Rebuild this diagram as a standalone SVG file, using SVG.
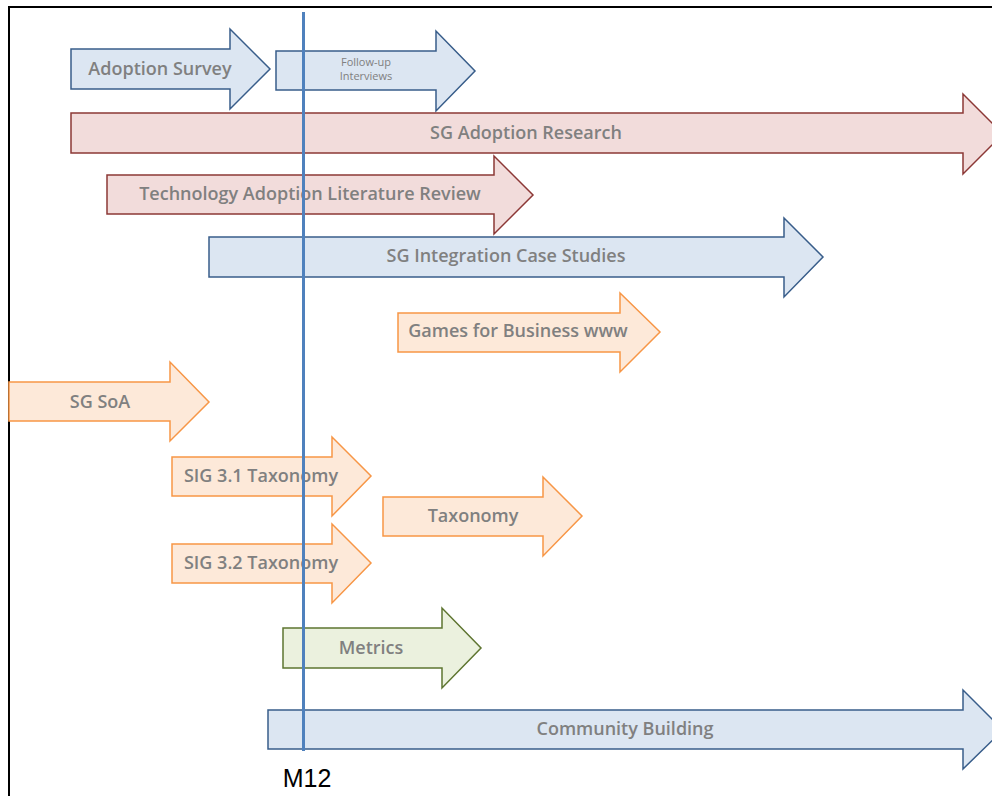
<svg xmlns="http://www.w3.org/2000/svg" width="992" height="796" viewBox="0 0 992 796">
<style>
.blue{fill:#DCE6F2;stroke:#385D8A;stroke-width:1.5}
.red{fill:#F2DCDB;stroke:#8C3836;stroke-width:1.5}
.orange{fill:#FDE9D9;stroke:#F79646;stroke-width:1.5}
.green{fill:#EBF1DE;stroke:#5E7530;stroke-width:1.5}
.lbl{font-family:"Open Sans","Liberation Sans",sans-serif;font-weight:600;font-size:18px;fill:#808080;text-anchor:middle;dominant-baseline:central}
.small{font-size:11px;font-weight:400}
</style>
<rect width="992" height="796" fill="#ffffff"/>
<path d="M9,796 V7 H992" fill="none" stroke="#000" stroke-width="2"/>
<g id="adoption-survey"><path class="blue" d="M71,49 H230 V29 L270,69 L230,109 V89 H71 Z"/><text class="lbl" x="160" y="68">Adoption Survey</text></g>
<g id="follow-up"><path class="blue" d="M276,51 H436 V31 L475,71 L436,111 V90 H276 Z"/><text class="lbl small" x="366" y="61">Follow-up</text><text class="lbl small" x="366" y="75">Interviews</text></g>
<g id="sg-adoption-research"><path class="red" d="M71,113 H963 V94 L1003,134 L963,174 V153 H71 Z"/><text class="lbl" x="526" y="132">SG Adoption Research</text></g>
<g id="tech-lit-review"><path class="red" d="M107,175 H494 V156 L533,195 L494,234 V214 H107 Z"/><text class="lbl" x="310" y="193">Technology Adoption Literature Review</text></g>
<g id="sg-integration"><path class="blue" d="M209,237 H784 V218 L823,257 L784,297 V277 H209 Z"/><text class="lbl" x="506" y="255">SG Integration Case Studies</text></g>
<g id="games-business"><path class="orange" d="M398,313 H620 V293 L660,332 L620,372 V352 H398 Z"/><text class="lbl" x="518" y="330">Games for Business www</text></g>
<g id="sg-soa"><path class="orange" d="M9,382 H170 V362 L209,402 L170,441 V421 H9 Z"/><text class="lbl" x="100" y="401">SG SoA</text></g>
<g id="sig31"><path class="orange" d="M172,457 H332 V437 L371,476 L332,516 V496 H172 Z"/><text class="lbl" x="261" y="475">SIG 3.1 Taxonomy</text></g>
<g id="taxonomy"><path class="orange" d="M383,497 H543 V477 L582,516 L543,556 V536 H383 Z"/><text class="lbl" x="473" y="515">Taxonomy</text></g>
<g id="sig32"><path class="orange" d="M172,544 H332 V524 L371,563 L332,603 V583 H172 Z"/><text class="lbl" x="261" y="562">SIG 3.2 Taxonomy</text></g>
<g id="metrics"><path class="green" d="M283,628 H442 V608 L481,648 L442,688 V668 H283 Z"/><text class="lbl" x="371" y="647">Metrics</text></g>
<g id="community-building"><path class="blue" d="M268,710 H963 V690 L1003,730 L963,769 V749 H268 Z"/><text class="lbl" x="625" y="728">Community Building</text></g>
<g id="m12"><line x1="303.5" y1="12" x2="303.5" y2="751" stroke="#4F81BD" stroke-width="3"/><text x="307" y="778" font-family="'Liberation Sans','Open Sans',sans-serif" font-size="25" fill="#000" text-anchor="middle" dominant-baseline="central">M12</text></g>
</svg>
